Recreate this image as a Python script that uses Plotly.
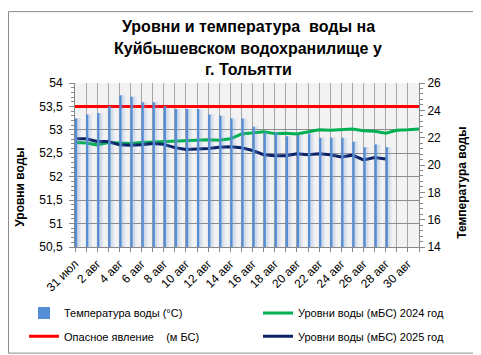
import plotly.graph_objects as go

# ---- data ----
dates = ["31 июл"] + [f"{d} авг" for d in range(1, 32)]
tick_labels = [lab if i % 2 == 0 else "" for i, lab in enumerate(dates)]

temperature = [23.4, 23.7, 23.8, 24.3, 25.1, 25.0, 24.6, 24.6, 24.3, 24.1,
               24.1, 24.1, 23.7, 23.6, 23.4, 23.4, 22.8, 22.4, 22.4, 22.1,
               22.2, 22.3, 22.0, 22.0, 22.0, 21.7, 21.3, 21.5, 21.3]

level_2024 = [52.73, 52.72, 52.68, 52.73, 52.72, 52.71, 52.73, 52.74, 52.75, 52.77,
              52.78, 52.78, 52.79, 52.78, 52.81, 52.91, 52.94, 52.96, 52.92, 52.93,
              52.91, 52.96, 53.00, 52.99, 53.00, 53.02, 52.98, 52.97, 52.93, 52.99,
              53.00, 53.02]

level_2025 = [52.81, 52.81, 52.75, 52.75, 52.68, 52.67, 52.68, 52.71, 52.69, 52.62,
              52.58, 52.59, 52.60, 52.63, 52.64, 52.62, 52.56, 52.47, 52.45, 52.45,
              52.49, 52.47, 52.49, 52.47, 52.42, 52.46, 52.36, 52.41, 52.38]

danger_level = [53.5] * len(dates)

title_lines = ["Уровни и температура  воды на", "Куйбышевском водохранилище у", "г. Тольятти"]

x_all = list(range(len(dates)))

FONT = "Liberation Sans, Arial, sans-serif"

fig = go.Figure()

# soft glow behind bars
fig.add_trace(go.Bar(x=x_all[:len(temperature)], y=temperature, yaxis="y2",
                     width=0.62, offset=-0.08,
                     marker=dict(color="rgba(120,160,220,0.12)", line=dict(width=0)),
                     showlegend=False, hoverinfo="skip"))
fig.add_trace(go.Bar(x=x_all[:len(temperature)], y=temperature, yaxis="y2",
                     width=0.4, offset=0.0,
                     marker=dict(color="rgba(120,160,220,0.16)", line=dict(width=0)),
                     showlegend=False, hoverinfo="skip"))
fig.add_trace(go.Bar(x=x_all[:len(temperature)], y=temperature, yaxis="y2",
                     width=0.2, offset=0.0, name="Температура воды (°С)",
                     marker=dict(color="#558ED5", line=dict(width=0)),
                     legend="legend"))

fig.add_trace(go.Scatter(x=x_all, y=level_2024, mode="lines",
                         name="Уровни воды (мБС) 2024 год",
                         line=dict(color="#00B050", width=3), legend="legend2"))
fig.add_trace(go.Scatter(x=x_all, y=danger_level, mode="lines",
                         name="Опасное явление    (м БС)",
                         line=dict(color="#FF0000", width=3), legend="legend3"))
fig.add_trace(go.Scatter(x=x_all[:len(level_2025)], y=level_2025, mode="lines",
                         name="Уровни воды (мБС) 2025 год",
                         line=dict(color="#0B2266", width=3), legend="legend4"))

W, H = 481, 355
L, R, T, B = 67, 70, 74.5, 110.5
pw = W - L - R
ph = H - T - B

def px_x(p):
    return (p - L) / pw

def px_y(p):
    return (H - B - p) / ph

legend_common = dict(orientation="h",
                     font=dict(family=FONT, size=11, color="#000000"),
                     bgcolor="rgba(0,0,0,0)", xanchor="left", yanchor="middle")

title_ann = [dict(text=f"<b>{t}</b>", xref="paper", yref="paper",
                  x=px_x(240), y=px_y(yy), xanchor="center", yanchor="middle",
                  showarrow=False, font=dict(family=FONT, size=16, color="#000000"))
             for t, yy in zip(title_lines, [16, 39, 61])]

fig.update_layout(
    width=W, height=H,
    margin=dict(l=L, r=R, t=T, b=B),
    paper_bgcolor="white",
    plot_bgcolor="#F2F2F2",
    separators=", ",
    barmode="overlay",
    xaxis=dict(range=[0, 31], tickmode="array", tickvals=x_all, ticktext=tick_labels,
               tickangle=-45, showgrid=True, gridcolor="#A6A6A6", gridwidth=1,
               ticks="outside", ticklen=4, tickcolor="#888888",
               showline=True, linecolor="#888888",
               tickfont=dict(family=FONT, size=12, color="#000000"),
               zeroline=False, fixedrange=True),
    yaxis=dict(range=[50.5, 54], dtick=0.5, tick0=50.5, showgrid=True,
               gridcolor="#8C8C8C", gridwidth=1,
               ticks="outside", ticklen=5, tickcolor="#888888",
               ticklabelstandoff=4,
               minor=dict(dtick=0.1, ticks="outside", ticklen=3, tickcolor="#888888", showgrid=False),
               showline=True, linecolor="#888888",
               tickfont=dict(family=FONT, size=12, color="#000000"),
               zeroline=False),
    yaxis2=dict(range=[14, 26], dtick=2, overlaying="y", side="right",
                showgrid=False, ticks="outside", ticklen=5, tickcolor="#888888",
                minor=dict(dtick=0.4, ticks="outside", ticklen=3, tickcolor="#888888"),
                showline=True, linecolor="#888888",
                tickfont=dict(family=FONT, size=12, color="#000000"),
                zeroline=False),
    legend=dict(x=px_x(16), y=px_y(313), **legend_common),
    legend2=dict(x=px_x(250), y=px_y(313), **legend_common),
    legend3=dict(x=px_x(16), y=px_y(337), **legend_common),
    legend4=dict(x=px_x(250), y=px_y(337), **legend_common),
    showlegend=True,
    annotations=title_ann + [
        dict(text="<b>Уровни воды</b>", xref="paper", yref="paper",
             x=px_x(12), y=px_y(183), xanchor="center", yanchor="middle",
             textangle=-90, showarrow=False,
             font=dict(family=FONT, size=12, color="#000000")),
        dict(text="<b>Температура воды</b>", xref="paper", yref="paper",
             x=px_x(454), y=px_y(178), xanchor="center", yanchor="middle",
             textangle=-90, showarrow=False,
             font=dict(family=FONT, size=12, color="#000000")),
    ],
    shapes=[
        dict(type="rect", xref="paper", yref="paper",
             x0=px_x(0.5), x1=px_x(480.5), y0=px_y(354.5), y1=px_y(0.5),
             line=dict(color="#8C8C8C", width=1), fillcolor="rgba(0,0,0,0)", layer="below"),
    ],
)

fig.write_html("out.html")
